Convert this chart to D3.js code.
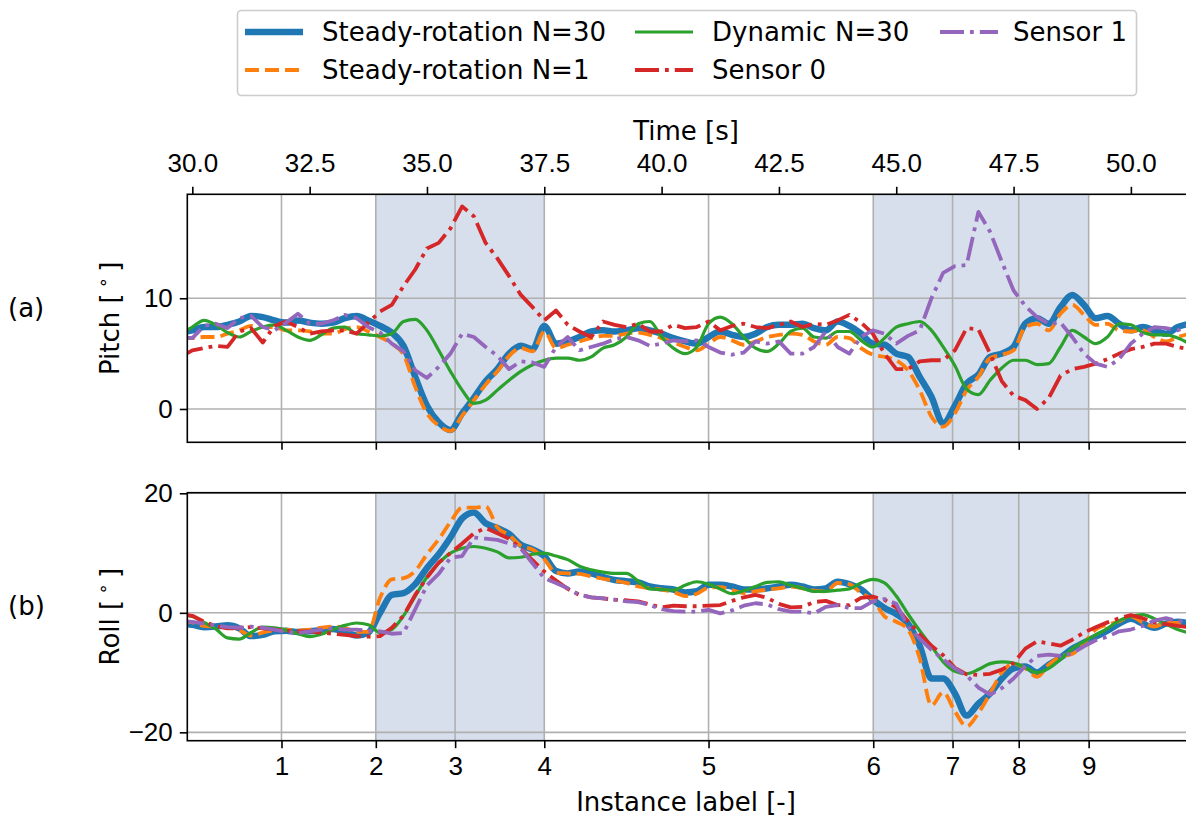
<!DOCTYPE html>
<html>
<head>
<meta charset="utf-8">
<script src="https://cdn.jsdelivr.net/npm/d3@7"></script>
<style>
  body { margin: 0; background: #fff; overflow: hidden; }
  svg { display: block; font-family: "DejaVu Sans", sans-serif; }
  .tick text { font-size: 26px; fill: #000; }
  .tick line { stroke: #000; stroke-width: 1.6px; }
  .domain { display: none; }
</style>
</head>
<body>
<svg id="chart" width="1186" height="819"></svg>
<script>
// sample times [s], one value every 0.25 s
var time = [29.75, 30.0, 30.25, 30.5, 30.75, 31.0, 31.25, 31.5,
  31.75, 32.0, 32.25, 32.5, 32.75, 33.0, 33.25, 33.5,
  33.75, 34.0, 34.25, 34.5, 34.75, 35.0, 35.25, 35.5,
  35.75, 36.0, 36.25, 36.5, 36.75, 37.0, 37.25, 37.5,
  37.75, 38.0, 38.25, 38.5, 38.75, 39.0, 39.25, 39.5,
  39.75, 40.0, 40.25, 40.5, 40.75, 41.0, 41.25, 41.5,
  41.75, 42.0, 42.25, 42.5, 42.75, 43.0, 43.25, 43.5,
  43.75, 44.0, 44.25, 44.5, 44.75, 45.0, 45.25, 45.5,
  45.75, 46.0, 46.25, 46.5, 46.75, 47.0, 47.25, 47.5,
  47.75, 48.0, 48.25, 48.5, 48.75, 49.0, 49.25, 49.5,
  49.75, 50.0, 50.25, 50.5, 50.75, 51.0, 51.25];

// pitch [deg]
var pitchSteady30 = [6.9, 7.1, 7.4, 7.4, 7.6, 7.9, 8.4, 8.3,
  8.0, 7.8, 8.0, 7.8, 7.7, 7.8, 8.2, 8.4,
  8.0, 7.5, 6.9, 5.7, 2.9, 0.3, -1.2, -1.9,
  -0.4, 1.0, 2.5, 3.6, 5.0, 5.7, 5.4, 7.5,
  5.9, 6.1, 6.5, 7.0, 7.1, 7.0, 7.1, 7.3,
  7.1, 6.8, 6.4, 6.1, 5.9, 6.5, 7.0, 6.7,
  6.5, 6.8, 7.4, 7.6, 7.6, 7.7, 7.3, 7.1,
  7.9, 7.5, 6.8, 5.9, 5.8, 5.0, 4.7, 2.9,
  1.1, -1.3, 0.3, 2.3, 3.1, 4.7, 5.0, 5.6,
  7.7, 8.2, 7.7, 9.2, 10.3, 9.4, 8.2, 8.4,
  7.7, 7.1, 7.4, 7.1, 6.8, 7.4, 7.7];
var pitchSteady1 = [6.4, 6.4, 6.5, 6.5, 6.8, 7.1, 7.5, 7.4,
  7.4, 7.1, 7.1, 7.0, 6.8, 6.8, 7.2, 7.4,
  7.0, 6.5, 5.9, 4.9, 2.0, -0.4, -1.5, -2.0,
  -0.6, 0.8, 2.2, 3.4, 4.8, 5.5, 5.2, 7.0,
  5.5, 5.8, 6.1, 6.4, 6.6, 6.6, 6.8, 6.9,
  6.7, 6.4, 6.0, 5.6, 5.3, 5.9, 6.5, 6.2,
  5.8, 6.1, 6.5, 6.7, 6.8, 6.7, 6.1, 5.8,
  6.5, 6.4, 5.5, 4.9, 4.7, 4.4, 3.5, 1.7,
  -0.7, -1.6, -0.4, 1.7, 2.9, 4.6, 4.9, 5.3,
  7.4, 7.7, 7.1, 8.6, 9.4, 8.5, 7.6, 7.7,
  7.1, 7.0, 7.1, 6.5, 6.1, 6.5, 6.8];
var pitchDynamic30 = [6.8, 7.4, 8.0, 7.6, 6.9, 6.5, 7.0, 7.4,
  7.6, 7.1, 6.5, 6.2, 6.7, 7.3, 7.4, 6.8,
  6.7, 6.6, 6.8, 7.9, 8.1, 7.1, 5.3, 3.4,
  1.7, 0.5, 0.8, 1.7, 2.6, 3.4, 4.0, 4.4,
  4.6, 4.6, 4.4, 4.7, 5.5, 5.8, 6.5, 7.7,
  7.9, 6.5, 5.5, 5.0, 5.6, 7.7, 8.3, 7.7,
  6.5, 5.5, 5.2, 5.9, 7.0, 7.3, 6.5, 6.4,
  7.0, 7.0, 6.2, 5.6, 6.4, 7.4, 7.7, 7.9,
  7.1, 5.6, 3.9, 1.8, 1.3, 2.6, 3.7, 4.4,
  4.4, 4.0, 4.1, 5.6, 7.1, 6.5, 5.9, 6.5,
  7.7, 7.6, 6.9, 6.7, 6.7, 6.4, 5.9];
var pitchSensor0 = [4.7, 5.3, 5.5, 5.7, 5.6, 7.0, 7.3, 6.0,
  7.5, 7.9, 7.4, 6.8, 7.0, 7.1, 7.1, 6.8,
  7.8, 8.8, 9.4, 11.1, 12.6, 14.5, 15.0, 16.3,
  18.3, 17.4, 15.0, 13.6, 12.0, 10.3, 9.2, 8.0,
  8.9, 7.6, 7.0, 6.5, 7.9, 7.6, 7.4, 7.7,
  7.0, 7.0, 7.6, 7.3, 7.4, 7.9, 7.1, 7.5,
  7.7, 7.4, 7.3, 7.6, 7.9, 7.4, 7.7, 7.6,
  8.0, 8.5, 7.8, 6.8, 5.0, 3.6, 3.6, 4.3,
  4.4, 4.4, 5.3, 7.3, 7.2, 5.0, 2.5, 1.2,
  0.8, 0.0, 1.0, 3.0, 3.6, 3.8, 4.1, 4.5,
  5.0, 5.4, 5.6, 5.9, 5.9, 5.6, 5.4];
var pitchSensor1 = [6.5, 6.4, 7.5, 7.7, 7.3, 8.2, 8.4, 7.4,
  7.1, 7.8, 8.6, 7.7, 7.7, 8.0, 8.5, 8.2,
  7.4, 6.9, 5.9, 5.2, 3.5, 2.8, 3.8, 5.0,
  6.8, 6.5, 5.6, 4.8, 3.6, 4.3, 4.2, 3.8,
  5.6, 6.5, 5.3, 5.6, 5.9, 6.3, 6.5, 6.2,
  5.7, 5.9, 6.2, 6.1, 6.2, 5.6, 5.1, 4.9,
  5.1, 6.1, 5.9, 6.1, 5.0, 5.0, 5.6, 7.0,
  5.6, 5.0, 6.5, 7.1, 6.8, 5.9, 6.6, 7.1,
  10.0, 12.3, 12.9, 13.0, 17.8, 16.0, 13.3, 10.7,
  9.3, 8.3, 7.7, 7.8, 6.5, 5.0, 4.1, 3.8,
  4.5, 5.9, 6.8, 7.4, 7.3, 7.1, 7.6];

// roll [deg]
var rollSteady30 = [-1.8, -2.0, -2.4, -2.3, -2.1, -2.6, -3.9, -3.7,
  -3.1, -3.0, -3.2, -3.1, -2.9, -2.7, -3.2, -3.8,
  -3.3, 0.0, 3.0, 3.3, 4.8, 7.5, 9.8, 12.6,
  15.8, 16.8, 15.0, 14.2, 13.2, 11.4, 10.6, 9.5,
  7.0, 6.6, 6.9, 6.6, 6.0, 5.5, 5.3, 5.1,
  4.4, 4.1, 3.9, 3.4, 3.6, 4.7, 4.7, 4.4,
  3.9, 3.9, 4.1, 4.4, 4.7, 4.4, 3.9, 4.1,
  5.2, 4.8, 3.9, 2.2, 0.8, -0.2, -1.8, -5.5,
  -11.0, -11.0, -13.5, -17.2, -15.2, -13.5, -11.0, -9.3,
  -9.0, -10.0, -8.7, -7.5, -6.0, -5.0, -4.0, -3.0,
  -1.8, -1.0, -1.8, -2.5, -1.8, -1.5, -1.8];
var rollSteady1 = [-1.3, -1.6, -2.2, -2.3, -2.5, -2.9, -3.8, -3.3,
  -2.9, -2.8, -3.0, -2.8, -2.5, -2.3, -2.5, -3.2,
  -3.2, 2.5, 5.6, 5.8, 7.0, 9.8, 12.3, 15.2,
  17.6, 17.6, 17.8, 14.3, 13.0, 11.2, 10.6, 9.0,
  6.7, 6.6, 6.5, 6.1, 5.7, 5.4, 5.0, 4.4,
  4.1, 3.9, 3.5, 2.8, 3.2, 4.2, 4.3, 3.8,
  3.3, 3.6, 3.9, 4.1, 4.4, 4.1, 3.7, 3.6,
  5.0, 4.8, 3.3, 2.2, -0.6, -1.5, -2.8, -7.6,
  -15.5, -13.3, -16.5, -19.0, -16.8, -13.5, -10.0, -8.5,
  -9.3, -10.7, -8.7, -7.3, -6.9, -5.1, -2.8, -2.0,
  -1.4, -0.6, -1.6, -2.3, -1.7, -1.7, -1.9];
var rollDynamic30 = [-0.3, -0.6, -1.6, -2.7, -4.2, -4.4, -3.3, -2.4,
  -2.5, -2.9, -3.5, -4.0, -3.6, -2.8, -2.1, -1.7,
  -2.0, -3.3, -2.8, -0.5, 2.8, 6.0, 8.3, 10.0,
  10.8, 11.1, 10.8, 10.2, 9.2, 9.3, 9.8, 10.0,
  9.5, 8.9, 7.8, 7.2, 6.8, 6.6, 6.6, 5.3,
  4.0, 3.9, 3.8, 4.6, 5.2, 4.8, 4.0, 3.2,
  3.7, 4.4, 5.1, 5.2, 4.6, 4.1, 3.6, 3.6,
  3.8, 4.0, 5.0, 5.6, 5.0, 2.8, -0.2, -3.0,
  -5.6, -8.2, -9.8, -10.2, -9.5, -8.5, -8.2, -8.4,
  -9.2, -10.0, -9.3, -7.8, -6.0, -4.8, -3.7, -2.6,
  -1.3, -0.6, -0.3, -1.0, -1.9, -2.8, -3.4];
var rollSensor0 = [-0.2, -0.5, -1.5, -2.2, -2.6, -2.5, -2.4, -2.6,
  -2.8, -3.0, -3.1, -3.1, -3.3, -3.5, -3.7, -3.9,
  -4.0, -3.9, -2.5, -0.5, 3.0, 5.9, 8.4, 10.0,
  11.6, 13.3, 14.2, 13.3, 12.4, 10.8, 8.8, 6.9,
  5.4, 4.0, 3.0, 2.6, 2.4, 2.2, 2.1, 1.9,
  1.4, 0.9, 1.2, 1.1, 1.1, 1.2, 1.3, 2.0,
  2.6, 3.0, 2.5, 1.5, 0.9, 1.0, 1.8, 2.0,
  1.3, 1.3, 2.5, 2.7, 2.2, 0.9, -1.4, -3.6,
  -5.5, -7.1, -9.2, -10.3, -10.4, -10.2, -9.5, -8.4,
  -6.0, -4.8, -5.1, -5.5, -4.5, -3.3, -2.4, -1.6,
  -0.9, -0.4, -0.9, -1.6, -1.9, -2.2, -2.4];
var rollSensor1 = [-1.4, -1.5, -1.8, -2.1, -2.4, -2.5, -2.3, -2.5,
  -2.8, -3.2, -3.4, -3.1, -2.8, -2.6, -2.8, -2.8,
  -3.0, -3.1, -3.5, -3.4, 0.6, 4.6, 6.5, 9.2,
  9.5, 12.6, 12.4, 12.2, 11.6, 10.8, 8.3, 5.8,
  5.0, 4.1, 3.0, 2.6, 2.4, 2.2, 1.9, 1.8,
  1.3, 0.6, 0.3, 0.2, 0.2, 0.5, -0.1, 0.4,
  1.2, 1.6, 1.4, 0.6, 0.2, 0.2, -0.1, 1.0,
  1.3, 0.8, 0.8, 1.9, 2.3, 1.5, -2.3, -4.3,
  -6.2, -7.8, -9.3, -10.5, -12.5, -13.7, -12.6, -11.0,
  -8.9, -7.2, -7.0, -7.2, -6.8, -5.6, -4.6, -4.0,
  -3.1, -2.8, -2.2, -1.3, -0.9, -1.4, -1.5];

// instance labels and where they sit in time
var instanceLabels = ["1", "2", "3", "4", "5", "6", "7", "8", "9"];
var instanceTimes = [31.90, 33.91, 35.60, 37.50, 41.00, 44.51, 46.20, 47.61, 49.10];
var shadedSpans = [[33.91, 37.50], [44.51, 49.10]];
var timeTicks = [30.0, 32.5, 35.0, 37.5, 40.0, 42.5, 45.0, 47.5, 50.0];
var pitchTicks = [0, 10];
var rollTicks = [-20, 0, 20];

var seriesNames = ["Steady-rotation N=30", "Steady-rotation N=1", "Dynamic N=30", "Sensor 0", "Sensor 1"];

var styles = [
  {color: "#1f77b4", width: 6.5, dash: null, curve: d3.curveMonotoneX},
  {color: "#ff7f0e", width: 3.8, dash: "14,6", curve: d3.curveMonotoneX},
  {color: "#2ca02c", width: 3.2, dash: null, curve: d3.curveMonotoneX},
  {color: "#d62728", width: 3.8, dash: "24,6,3.8,6", curve: d3.curveLinear},
  {color: "#9467bd", width: 3.8, dash: "24,6,3.8,6", curve: d3.curveLinear}
];

var svg = d3.select("#chart");
var left = 187.3, right = 1188;
var fs = 26;

var x = d3.scaleLinear().domain([29.893, 51.217]).range([left, right]);

var panels = [
  {id: "a", top: 194.3, bottom: 442.3, domain: [-3.01, 19.39], ticks: pitchTicks, label: "Pitch",
   series: [pitchSteady30, pitchSteady1, pitchDynamic30, pitchSensor0, pitchSensor1]},
  {id: "b", top: 492.7, bottom: 740.7, domain: [-21.4, 20.1], ticks: rollTicks, label: "Roll",
   series: [rollSteady30, rollSteady1, rollDynamic30, rollSensor0, rollSensor1]}
];

panels.forEach(function(p, pi) {
  var y = d3.scaleLinear().domain(p.domain).range([p.bottom, p.top]);
  var h = p.bottom - p.top;

  svg.append("clipPath").attr("id", "clip" + p.id)
    .append("rect").attr("x", left).attr("y", p.top).attr("width", right - left).attr("height", h);

  var g = svg.append("g");

  // shaded instances
  g.selectAll(".span").data(shadedSpans).enter().append("rect")
    .attr("x", function(d) { return x(d[0]); })
    .attr("y", p.top)
    .attr("width", function(d) { return x(d[1]) - x(d[0]); })
    .attr("height", h)
    .attr("fill", "#d6dfeb");

  // grid
  g.selectAll(".vgrid").data(instanceTimes).enter().append("line")
    .attr("x1", function(d) { return x(d); }).attr("x2", function(d) { return x(d); })
    .attr("y1", p.top).attr("y2", p.bottom)
    .attr("stroke", "#b0b0b0").attr("stroke-width", 1.6);
  g.selectAll(".hgrid").data(p.ticks).enter().append("line")
    .attr("x1", left).attr("x2", right)
    .attr("y1", function(d) { return y(d); }).attr("y2", function(d) { return y(d); })
    .attr("stroke", "#b0b0b0").attr("stroke-width", 1.6);

  // lines
  var lg = g.append("g").attr("clip-path", "url(#clip" + p.id + ")");
  p.series.forEach(function(vals, si) {
    var st = styles[si];
    var line = d3.line()
      .x(function(d, i) { return x(time[i]); })
      .y(function(d) { return y(d); })
      .curve(st.curve);
    lg.append("path").datum(vals)
      .attr("d", line)
      .attr("fill", "none")
      .attr("stroke", st.color)
      .attr("stroke-width", st.width)
      .attr("stroke-dasharray", st.dash)
      .attr("stroke-linejoin", "round")
      .attr("stroke-linecap", st.dash ? "butt" : "round");
  });

  // y axis
  svg.append("g").attr("transform", "translate(" + left + ",0)")
    .call(d3.axisLeft(y).tickValues(p.ticks).tickSize(7.5).tickPadding(7)
      .tickFormat(function(d) { return d < 0 ? "\u2212" + Math.abs(d) : d; }));

  // bottom ticks at instances
  var xb = d3.axisBottom(x).tickValues(instanceTimes).tickSize(7.5).tickPadding(8);
  if (pi === 0) xb.tickFormat(""); else xb.tickFormat(function(d, i) { return instanceLabels[i]; });
  svg.append("g").attr("transform", "translate(0," + p.bottom + ")").call(xb);

  // spines
  svg.append("rect").attr("x", left).attr("y", p.top).attr("width", right - left).attr("height", h)
    .attr("fill", "none").attr("stroke", "#000").attr("stroke-width", 1.6);

  // y label
  var yl = svg.append("text")
    .attr("transform", "translate(119," + (p.top + h / 2) + ") rotate(-90)")
    .attr("text-anchor", "middle").attr("font-size", fs);
  yl.append("tspan").text(p.label + " [\u2009");
  yl.append("tspan").attr("font-size", 18).attr("dy", -10).text("\u2218");
  yl.append("tspan").attr("dy", 10).text("\u2009]");

  svg.append("text").attr("x", 8).attr("y", p.top + h / 2 - 9)
    .attr("font-size", fs).attr("dominant-baseline", "middle").text("(" + p.id + ")");
});

// top time axis
svg.append("g").attr("transform", "translate(0,194.3)")
  .call(d3.axisTop(x).tickValues(timeTicks).tickSize(7.5).tickPadding(15)
    .tickFormat(d3.format(".1f")));
svg.append("text").attr("x", 686).attr("y", 140).attr("text-anchor", "middle")
  .attr("font-size", fs).text("Time [s]");
svg.append("text").attr("x", 686).attr("y", 811).attr("text-anchor", "middle")
  .attr("font-size", fs).text("Instance label [-]");

// legend
var legend = svg.append("g");
legend.append("rect").attr("x", 237.5).attr("y", 10.5).attr("width", 899).attr("height", 85)
  .attr("rx", 4).attr("fill", "#fff").attr("stroke", "#cccccc").attr("stroke-width", 1.6);
var legendPos = [[245, 32], [245, 70], [635, 32], [635, 70], [940, 32]];
seriesNames.forEach(function(name, i) {
  var st = styles[i];
  var pos = legendPos[i];
  legend.append("line")
    .attr("x1", pos[0]).attr("x2", pos[0] + 58)
    .attr("y1", pos[1]).attr("y2", pos[1])
    .attr("stroke", st.color).attr("stroke-width", st.width)
    .attr("stroke-dasharray", st.dash);
  legend.append("text").attr("x", pos[0] + (i === 4 ? 73 : 77)).attr("y", pos[1])
    .attr("dominant-baseline", "central").attr("font-size", fs).text(name);
});
</script>
</body>
</html>
